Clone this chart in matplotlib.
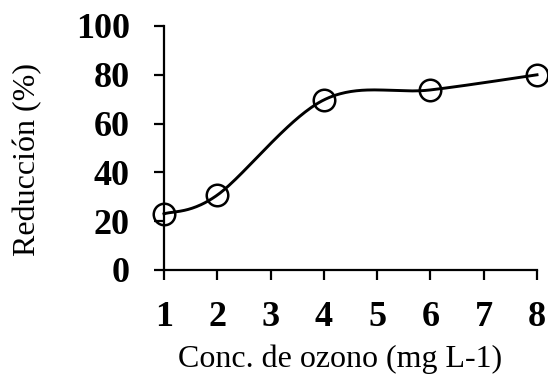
import numpy as np
import matplotlib
matplotlib.use("Agg")
import matplotlib.pyplot as plt

# Data
x_ticks = [1, 2, 3, 4, 5, 6, 7, 8]
x_vals = [1, 2, 4, 6, 8]
reduccion = [23.0, 30.7, 69.7, 73.8, 80.0]
y_ticks = [0, 20, 40, 60, 80, 100]
x_label = "Conc. de ozono (mg L-1)"
y_label = "Reducción (%)"


def smooth(xs, ys, n=60):
    P = np.column_stack([xs, ys]).astype(float)
    P_ext = np.vstack([P[0], P, P[-1]])
    out = []
    t = np.linspace(0, 1, n)[:, None]
    for i in range(len(P) - 1):
        p0 = P_ext[i + 1]
        p3 = P_ext[i + 2]
        c1 = p0 + (P_ext[i + 2] - P_ext[i]) / 6.0
        c2 = p3 - (P_ext[i + 3] - P_ext[i + 1]) / 6.0
        seg = ((1 - t) ** 3) * p0 + 3 * ((1 - t) ** 2) * t * c1 + 3 * (1 - t) * t ** 2 * c2 + t ** 3 * p3
        out.append(seg)
    out = np.vstack(out)
    return out[:, 0], out[:, 1]


fig = plt.figure(figsize=(5.48, 3.75), dpi=100)
ax = fig.add_axes([164 / 548, (375 - 270) / 375, (537 - 164) / 548, (270 - 26) / 375])

sx, sy = smooth(x_vals, reduccion)
ax.plot(sx, sy, color="black", lw=2.1, zorder=2, clip_on=False)
ax.plot(x_vals, reduccion, linestyle="none", marker="o", markersize=15.5,
        markerfacecolor="none", markeredgecolor="black", markeredgewidth=1.8,
        zorder=3, clip_on=False)

ax.set_xlim(1, 8)
ax.set_ylim(0, 100)
ax.set_xticks(x_ticks)
ax.set_yticks(y_ticks)
ax.set_xticklabels([str(v) for v in x_ticks])
ax.set_yticklabels([str(v) for v in y_ticks])

for s in ["top", "right"]:
    ax.spines[s].set_visible(False)
for s in ["left", "bottom"]:
    ax.spines[s].set_linewidth(1.6)

ax.tick_params(axis="both", direction="out", length=7.5, width=1.6,
               labelsize=26)
ax.tick_params(axis="y", pad=17)
ax.tick_params(axis="x", pad=15)
for lbl in ax.get_xticklabels() + ax.get_yticklabels():
    lbl.set_fontfamily("Liberation Serif")
    lbl.set_fontweight("bold")

xl = ax.set_xlabel(x_label, fontsize=23, fontfamily="Liberation Serif")
yl = ax.set_ylabel(y_label, fontsize=23, fontfamily="Liberation Serif")
xl.set_verticalalignment("baseline")
yl.set_verticalalignment("center")
ax.xaxis.set_label_coords((340 - 164) / 373, (270 - 367) / 244)
ax.yaxis.set_label_coords((28 - 164) / 373, (270 - 160) / 244)

fig.savefig("out.png", dpi=100)
